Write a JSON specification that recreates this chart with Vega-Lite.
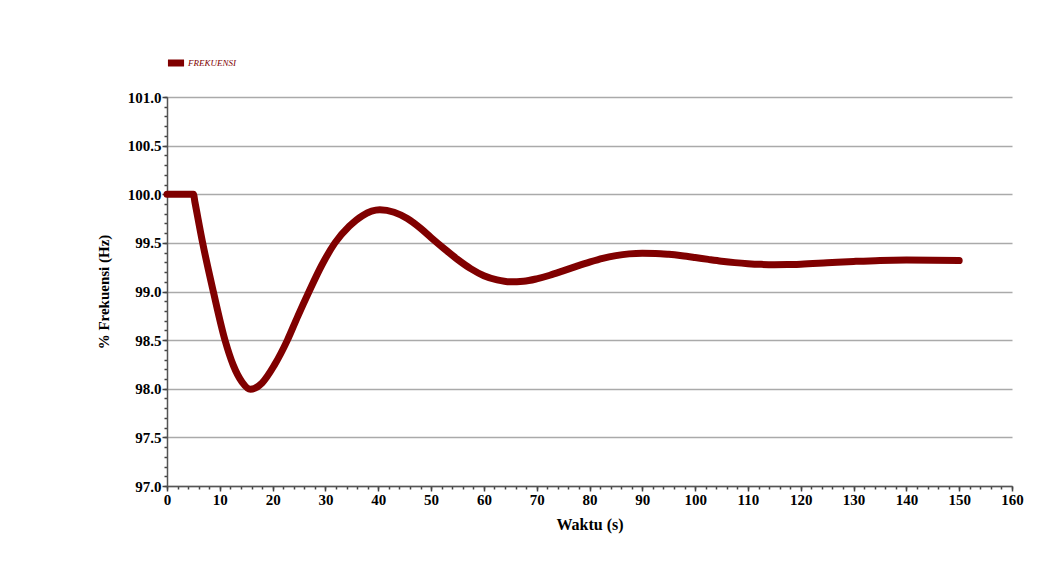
{
  "$schema": "https://vega.github.io/schema/vega-lite/v6.json",
  "width": 845,
  "height": 389,
  "autosize": "none",
  "padding": {"left": 167, "top": 97, "right": 39, "bottom": 75},
  "background": "white",
  "config": {
    "view": {"stroke": null},
    "font": "Liberation Serif"
  },
  "data": {
    "values": [
      {"t": 0, "v": 100.0, "s": "FREKUENSI"},
      {"t": 5, "v": 100.0, "s": "FREKUENSI"},
      {"t": 5.3, "v": 99.915, "s": "FREKUENSI"},
      {"t": 6.75, "v": 99.5, "s": "FREKUENSI"},
      {"t": 8.77, "v": 99.0, "s": "FREKUENSI"},
      {"t": 10.98, "v": 98.5, "s": "FREKUENSI"},
      {"t": 12.56, "v": 98.24, "s": "FREKUENSI"},
      {"t": 14.2, "v": 98.07, "s": "FREKUENSI"},
      {"t": 15.8, "v": 97.995, "s": "FREKUENSI"},
      {"t": 18, "v": 98.06, "s": "FREKUENSI"},
      {"t": 20.3, "v": 98.24, "s": "FREKUENSI"},
      {"t": 22.8, "v": 98.5, "s": "FREKUENSI"},
      {"t": 24.8, "v": 98.75, "s": "FREKUENSI"},
      {"t": 26.9, "v": 99.0, "s": "FREKUENSI"},
      {"t": 29.3, "v": 99.27, "s": "FREKUENSI"},
      {"t": 31.8, "v": 99.5, "s": "FREKUENSI"},
      {"t": 34.5, "v": 99.67, "s": "FREKUENSI"},
      {"t": 37, "v": 99.78, "s": "FREKUENSI"},
      {"t": 40.3, "v": 99.84, "s": "FREKUENSI"},
      {"t": 43, "v": 99.815, "s": "FREKUENSI"},
      {"t": 45.5, "v": 99.75, "s": "FREKUENSI"},
      {"t": 48, "v": 99.65, "s": "FREKUENSI"},
      {"t": 50, "v": 99.555, "s": "FREKUENSI"},
      {"t": 52.5, "v": 99.44, "s": "FREKUENSI"},
      {"t": 55, "v": 99.33, "s": "FREKUENSI"},
      {"t": 57.5, "v": 99.235, "s": "FREKUENSI"},
      {"t": 60, "v": 99.162, "s": "FREKUENSI"},
      {"t": 62.5, "v": 99.119, "s": "FREKUENSI"},
      {"t": 65, "v": 99.099, "s": "FREKUENSI"},
      {"t": 67.5, "v": 99.105, "s": "FREKUENSI"},
      {"t": 70, "v": 99.13, "s": "FREKUENSI"},
      {"t": 72.5, "v": 99.167, "s": "FREKUENSI"},
      {"t": 75, "v": 99.212, "s": "FREKUENSI"},
      {"t": 77.5, "v": 99.258, "s": "FREKUENSI"},
      {"t": 80, "v": 99.302, "s": "FREKUENSI"},
      {"t": 82.5, "v": 99.341, "s": "FREKUENSI"},
      {"t": 85, "v": 99.369, "s": "FREKUENSI"},
      {"t": 87.5, "v": 99.387, "s": "FREKUENSI"},
      {"t": 90, "v": 99.394, "s": "FREKUENSI"},
      {"t": 92.5, "v": 99.392, "s": "FREKUENSI"},
      {"t": 95, "v": 99.382, "s": "FREKUENSI"},
      {"t": 97.5, "v": 99.367, "s": "FREKUENSI"},
      {"t": 100, "v": 99.349, "s": "FREKUENSI"},
      {"t": 102.5, "v": 99.33, "s": "FREKUENSI"},
      {"t": 105, "v": 99.312, "s": "FREKUENSI"},
      {"t": 107.5, "v": 99.297, "s": "FREKUENSI"},
      {"t": 110, "v": 99.286, "s": "FREKUENSI"},
      {"t": 112.5, "v": 99.279, "s": "FREKUENSI"},
      {"t": 115, "v": 99.276, "s": "FREKUENSI"},
      {"t": 117.5, "v": 99.277, "s": "FREKUENSI"},
      {"t": 120, "v": 99.281, "s": "FREKUENSI"},
      {"t": 125, "v": 99.295, "s": "FREKUENSI"},
      {"t": 130, "v": 99.309, "s": "FREKUENSI"},
      {"t": 135, "v": 99.32, "s": "FREKUENSI"},
      {"t": 140, "v": 99.324, "s": "FREKUENSI"},
      {"t": 145, "v": 99.322, "s": "FREKUENSI"},
      {"t": 150, "v": 99.318, "s": "FREKUENSI"}
    ]
  },
  "layer": [
    {
      "mark": {"type": "line", "opacity": 0},
      "encoding": {
        "x": {
          "field": "t", "type": "quantitative",
          "scale": {"domain": [0, 160], "nice": false, "zero": false},
          "axis": {
            "orient": "bottom", "title": null, "labels": false, "domain": false, "grid": false,
            "values": [0,2,4,6,8,10,12,14,16,18,20,22,24,26,28,30,32,34,36,38,40,42,44,46,48,50,52,54,56,58,60,62,64,66,68,70,72,74,76,78,80,82,84,86,88,90,92,94,96,98,100,102,104,106,108,110,112,114,116,118,120,122,124,126,128,130,132,134,136,138,140,142,144,146,148,150,152,154,156,158,160],
            "ticks": true, "tickSize": 3, "tickColor": "#444", "tickWidth": 1.5
          }
        },
        "y": {
          "field": "v", "type": "quantitative",
          "scale": {"domain": [97, 101], "nice": false, "zero": false},
          "axis": {
            "orient": "left", "title": null, "labels": false, "domain": false, "grid": false,
            "values": [97,97.1,97.2,97.3,97.4,97.5,97.6,97.7,97.8,97.9,98,98.1,98.2,98.3,98.4,98.5,98.6,98.7,98.8,98.9,99,99.1,99.2,99.3,99.4,99.5,99.6,99.7,99.8,99.9,100,100.1,100.2,100.3,100.4,100.5,100.6,100.7,100.8,100.9,101],
            "ticks": true, "tickSize": 3, "tickColor": "#444", "tickWidth": 1.5
          }
        }
      }
    },
    {
      "mark": {"type": "line", "strokeWidth": 7, "strokeCap": "round", "strokeJoin": "round", "interpolate": "monotone"},
      "encoding": {
        "x": {
          "field": "t", "type": "quantitative",
          "scale": {"domain": [0, 160], "nice": false, "zero": false},
          "axis": {
            "orient": "bottom", "title": "Waktu (s)",
            "values": [0,10,20,30,40,50,60,70,80,90,100,110,120,130,140,150,160],
            "grid": false, "domainColor": "#555", "domainWidth": 1.5,
            "tickColor": "#444", "tickWidth": 1.5, "tickSize": 5,
            "labelFont": "Liberation Serif", "labelFontWeight": "bold", "labelFontSize": 15, "labelColor": "#000",
            "labelPadding": 1, "labelFlush": false,
            "titleFont": "Liberation Serif", "titleFontWeight": "bold", "titleFontSize": 16, "titleColor": "#000",
            "titlePadding": 9
          }
        },
        "y": {
          "field": "v", "type": "quantitative",
          "scale": {"domain": [97, 101], "nice": false, "zero": false},
          "axis": {
            "orient": "left", "title": "% Frekuensi (Hz)", "format": ".1f",
            "values": [97,97.5,98,98.5,99,99.5,100,100.5,101],
            "grid": true, "gridColor": "#aaa", "gridWidth": 1.5,
            "domainColor": "#555", "domainWidth": 1.5,
            "tickColor": "#444", "tickWidth": 1.5, "tickSize": 5,
            "labelFont": "Liberation Serif", "labelFontWeight": "bold", "labelFontSize": 15, "labelColor": "#000",
            "labelPadding": 1, "labelFlush": false,
            "titleFont": "Liberation Serif", "titleFontWeight": "bold", "titleFontSize": 15, "titleColor": "#000",
            "titlePadding": 16
          }
        },
        "color": {
          "field": "s", "type": "nominal",
          "scale": {"domain": ["FREKUENSI"], "range": ["#800000"]},
          "legend": {
            "orient": "none", "legendX": -3, "legendY": -46, "title": null,
            "symbolType": "stroke", "symbolSize": 260, "symbolStrokeWidth": 7, "symbolStrokeColor": "#800000",
            "labelFont": "Liberation Serif", "labelFontStyle": "italic", "labelFontSize": 9, "labelColor": "#800000",
            "labelOffset": 0
          }
        }
      }
    }
  ],
  "resolve": {"axis": {"x": "independent", "y": "independent"}}
}
